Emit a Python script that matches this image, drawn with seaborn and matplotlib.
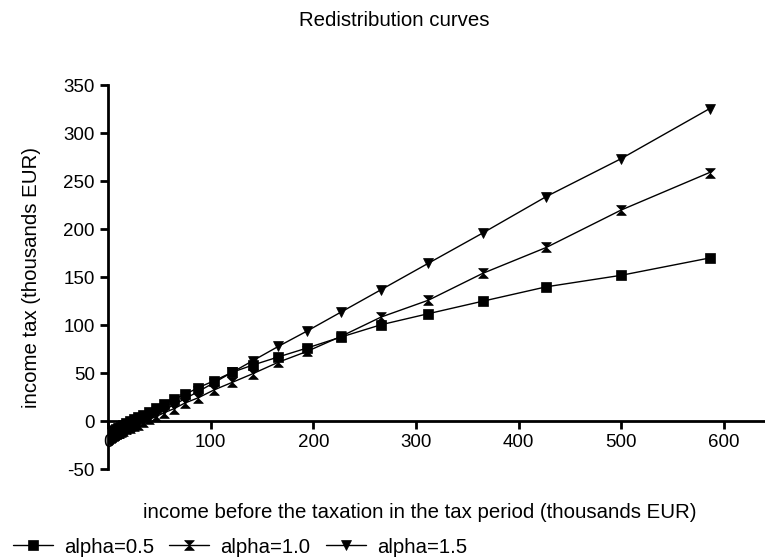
import pandas as pd
import numpy as np
import matplotlib
matplotlib.use('Agg')
import matplotlib.pyplot as plt
import seaborn as sns

sns.set_style('white')
plt.rcParams['font.family'] = ['Liberation Sans', 'DejaVu Sans']
plt.rcParams['axes.unicode_minus'] = False
plt.rcParams['text.color'] = 'black'
plt.rcParams['axes.labelcolor'] = 'black'

# income before taxation (thousands EUR)
income = [586, 500, 427, 365, 312, 266, 227, 194, 166, 141, 121, 103, 88, 75,
          64, 55, 47, 40, 34, 29, 25, 21, 18, 15, 13, 11, 9.5, 8, 7, 6, 5,
          4.3, 3.7, 3.1, 2.7, 2.3, 2.0]

tax_a05 = [170, 152, 140, 125, 112, 100.5, 87.7, 76.3, 67, 58.5, 51, 42, 35, 28,
           23, 18, 14, 10, 7, 4, 2, 0, -2, -4, -5.5, -6.5, -7.5, -8.5, -9, -10, -10.5,
           -11, -11.5, -12, -12.3, -12.6, -13]
tax_a10 = [259, 220, 181, 154, 126, 108.5, 88.4, 72.8, 61.5, 49.5, 40.5, 32.5, 24.5, 19,
           13, 9, 5, 2, -1, -3.5, -5, -7, -8.5, -10, -11, -12, -12.5, -13, -13.5, -14, -14.5,
           -15, -15.2, -15.5, -15.7, -15.9, -16]
tax_a15 = [325.5, 273.5, 234, 196, 164.5, 137, 113.7, 94, 78, 63, 51, 40, 31, 23.5,
           17, 12, 7.5, 3.5, 0, -3, -5.5, -8, -10, -12, -13, -14.5, -15.5, -16.5, -17, -17.5, -18,
           -18.5, -19, -19.3, -19.6, -19.8, -20]

labels = ['alpha=0.5', 'alpha=1.0', 'alpha=1.5']
hourglass = [(-1, 1), (1, 1), (-1, -1), (1, -1), (-1, 1)]
markers = ['s', hourglass, 'v']

fig = plt.figure(figsize=(7.65, 5.6), dpi=100)
ax = fig.add_axes([0.1412, 0.162, 0.8588, 0.686])

for tax, lab, m in zip([tax_a05, tax_a10, tax_a15], labels, markers):
    sns.lineplot(x=income, y=tax, ax=ax, color='black', linewidth=1,
                 marker=m, markersize=7, markeredgecolor='black',
                 markeredgewidth=0.5, label=lab, sort=True)

ax.set_xlim(0, 640)
ax.set_ylim(-50, 350)
ax.set_xticks([0, 100, 200, 300, 400, 500, 600])
ax.set_yticks([-50, 0, 50, 100, 150, 200, 250, 300, 350])

for s in ['top', 'right']:
    ax.spines[s].set_visible(False)
ax.spines['bottom'].set_position(('data', 0))
ax.spines['left'].set_linewidth(2)
ax.spines['bottom'].set_linewidth(2)
ax.spines['left'].set_color('black')
ax.spines['bottom'].set_color('black')
ax.tick_params(axis='both', direction='out', length=6, width=2,
               labelsize=13.5, colors='black', left=True, bottom=True)

ax.set_xlabel('')
ax.set_ylabel('income tax (thousands EUR)', fontsize=14.7, labelpad=16)
fig.text(0.549, 0.085, 'income before the taxation in the tax period (thousands EUR)',
         ha='center', va='center', fontsize=14.7)
fig.text(0.516, 0.963, 'Redistribution curves', ha='center', va='center', fontsize=14.7)

ax.get_legend().remove()
handles, lbls = ax.get_legend_handles_labels()
fig.legend(handles, lbls, loc='center left', bbox_to_anchor=(0.017, 0.023), ncol=3,
           frameon=False, fontsize=14.7, handlelength=1.95, handletextpad=0.55,
           columnspacing=0.75, borderaxespad=0, borderpad=0)

fig.savefig('out.png', dpi=100)
